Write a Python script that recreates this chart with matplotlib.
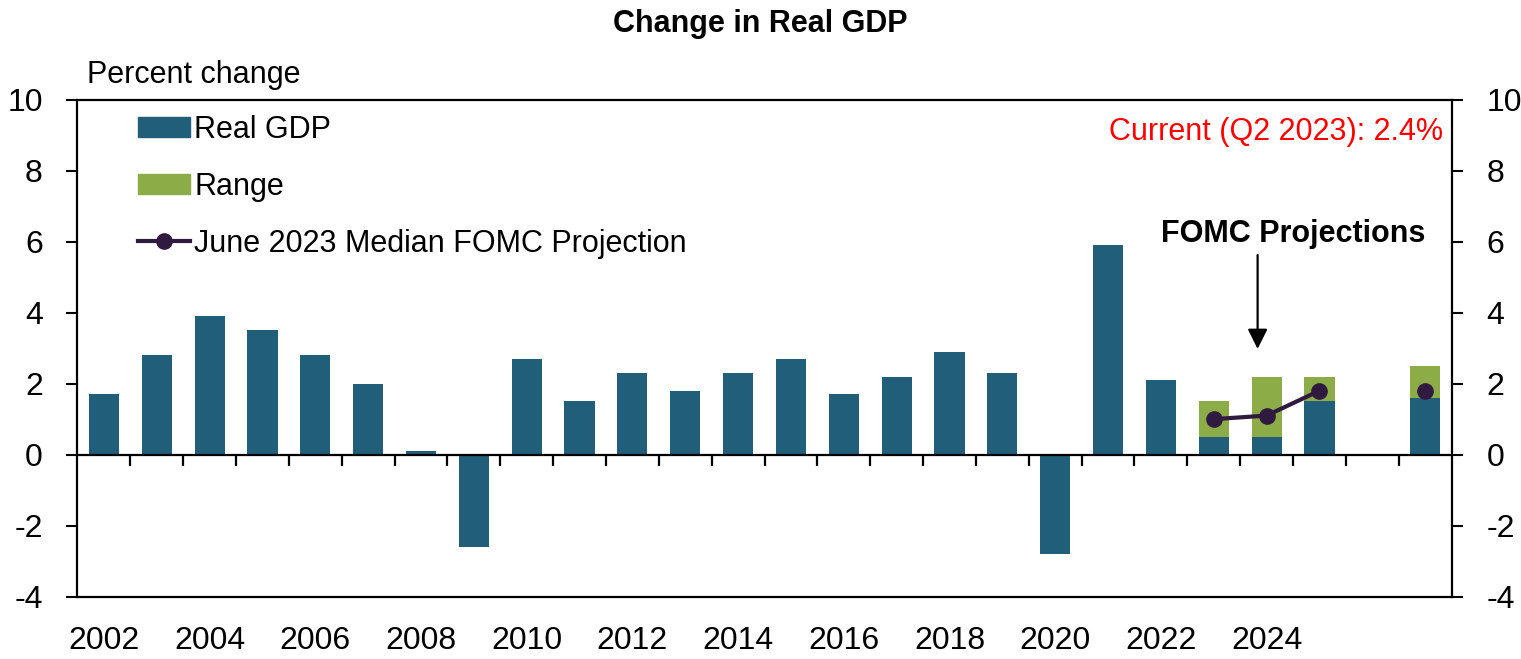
import numpy as np
import matplotlib
matplotlib.use('Agg')
import matplotlib.pyplot as plt
from matplotlib.patches import Patch
from matplotlib.lines import Line2D

plt.rcParams['font.family'] = ['Liberation Sans Narrow', 'Liberation Sans', 'DejaVu Sans']
plt.rcParams['axes.unicode_minus'] = False

# categories: 2002 .. 2026, then longer run at the end
categories = [str(y) for y in range(2002, 2027)] + ['Longer run']
tick_labels = [str(y) for y in range(2002, 2025, 2)]

actual_years = list(range(2002, 2023))
actual_gdp = [1.7, 2.8, 3.9, 3.5, 2.8, 2.0, 0.1, -2.6, 2.7, 1.5, 2.3,
              1.8, 2.3, 2.7, 1.7, 2.2, 2.9, 2.3, -2.8, 5.9, 2.1]

proj_cats = ['2023', '2024', '2025', 'Longer run']
range_low = [0.5, 0.5, 1.5, 1.6]
range_high = [1.5, 2.2, 2.2, 2.5]
median_proj = [1.0, 1.1, 1.8, 1.8]

BLUE = '#215e79'
GREEN = '#8bac46'
PURPLE = '#311a40'

fig = plt.figure(figsize=(15.21, 6.59), dpi=100)
ax = fig.add_axes([0.05095, 0.0945, 0.9034, 0.7545])

pos = {c: i for i, c in enumerate(categories)}
xa = [pos[str(y)] for y in actual_years]
xp = [pos[c] for c in proj_cats]
w = 0.57

ax.bar(xa, actual_gdp, width=w, color=BLUE)
ax.bar(xp, range_low, width=w, color=BLUE)
ax.bar(xp, np.array(range_high) - np.array(range_low), bottom=range_low,
       width=w, color=GREEN)
ax.plot(xp[:3], median_proj[:3], color=PURPLE, lw=3, marker='o', ms=11)
ax.plot(xp[3:], median_proj[3:], color=PURPLE, lw=3, marker='o', ms=11)

ax.set_xlim(-0.5, len(categories) - 0.5)
ax.set_ylim(-4, 10)
ax.set_yticks(range(-4, 11, 2))

# zero line with category-boundary ticks
ax.axhline(0, color='black', lw=1.6, zorder=3)
bounds = np.arange(0.5, len(categories) - 1, 1.0)
ax.vlines(bounds, -0.33, 0, color='black', lw=1.6, zorder=3)

ax.set_xticks([pos[t] for t in tick_labels])
ax.set_xticklabels(tick_labels)
ax.tick_params(axis='x', length=0, pad=21, labelsize=23)
ax.tick_params(axis='y', direction='out', length=8, width=1.5, pad=17,
               labelsize=23, left=True, right=True, labelleft=True,
               labelright=True)
for s in ax.spines.values():
    s.set_linewidth(1.6)

fig.text(0.5, 1 - 24 / 659, 'Change in Real GDP', ha='center', va='center',
         fontsize=22, fontweight='bold')
fig.text(87 / 1521, 1 - 83 / 659, 'Percent change', ha='left',
         va='baseline', fontsize=22)

ax.text(0.9938, 0.9346, 'Current (Q2 2023): 2.4%', transform=ax.transAxes,
        ha='right', va='center', color='red', fontsize=22)
ax.text(22.5, 6.2, 'FOMC Projections', ha='center', va='center',
        fontsize=22, fontweight='bold')
ax.annotate('', xy=(21.83, 2.9), xytext=(21.83, 5.7),
            arrowprops=dict(arrowstyle='-|>', color='black', lw=1.6,
                            mutation_scale=30))

handles = [Patch(color=BLUE), Patch(color=GREEN),
           Line2D([], [], color=PURPLE, lw=3, marker='o', ms=11)]
labels = ['Real GDP', 'Range', 'June 2023 Median FOMC Projection']
ax.legend(handles, labels, loc='upper left', bbox_to_anchor=(0.044, 0.969),
          frameon=False, fontsize=22, handlelength=1.7, handleheight=0.66,
          handletextpad=0.15, labelspacing=0.88, borderpad=0,
          borderaxespad=0, numpoints=1)

fig.savefig('out.png', dpi=100)
